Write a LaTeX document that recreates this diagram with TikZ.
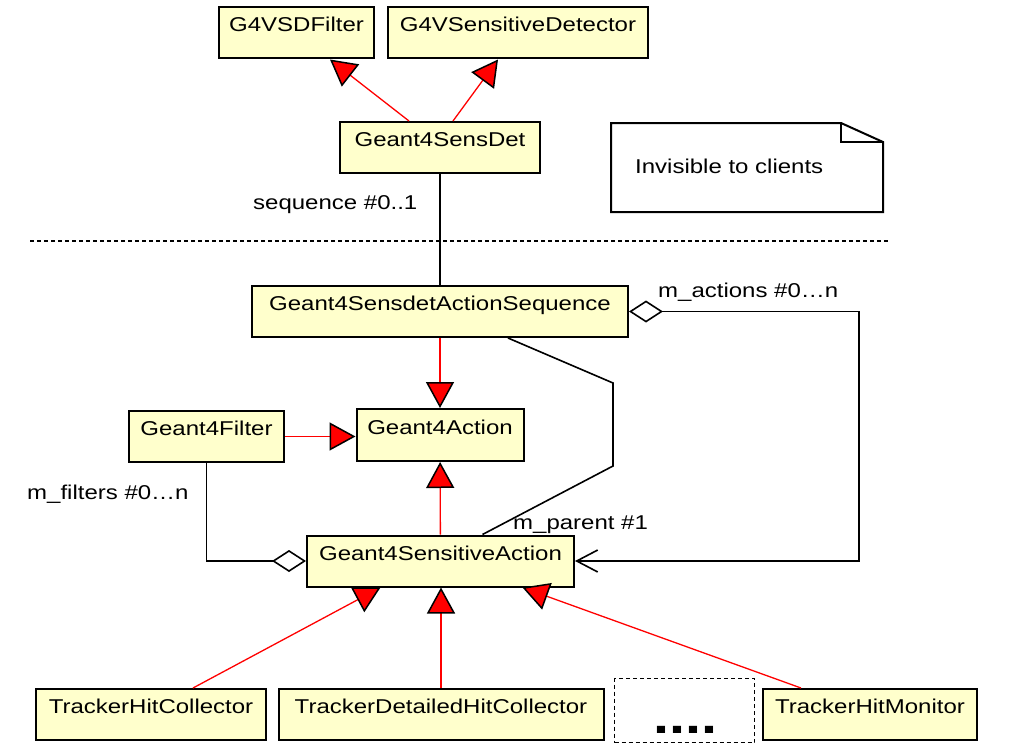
\documentclass[tikz,border=0pt]{standalone}
\usepackage{fontspec}
\setmainfont{Liberation Sans}[FakeStretch=1.2]
\usepackage{tikz}
\usetikzlibrary{arrows.meta, positioning}
\definecolor{classfill}{RGB}{255,255,204}
\definecolor{inhred}{RGB}{255,0,0}

\begin{document}
\begin{tikzpicture}[x=1pt, y=-1pt,
    classbox/.style={rectangle, draw=black, fill=classfill, line width=2pt,
      minimum height=51pt, text height=15pt, text depth=17pt, inner sep=0pt,
      font=\fontsize{20}{24}\selectfont},
    inherit/.style={-{Triangle[length=26pt, width=28pt, fill=inhred, color=black, line width=1.5pt]},
      line width=1.3pt, color=inhred},
    assoc/.style={line width=1.6pt, color=black},
    aggr/.tip={Diamond[open, length=34pt, width=22pt, line width=1.6pt]},
    rolename/.style={inner sep=0pt, anchor=base west, font=\fontsize{20}{24}\selectfont}
  ]
    \useasboundingbox (0,0) rectangle (1023,752);

    \node[classbox, minimum width=155pt] (sdfilter) at (296.5,33) {G4VSDFilter};
    \node[classbox, minimum width=260pt, right=12pt of sdfilter] (sensdet) {G4VSensitiveDetector};
    \node[classbox, minimum width=200pt] (g4sd) at (440,147.5) {Geant4SensDet};
    \node[classbox, minimum width=376pt] (seq) at (440,311.5) {Geant4SensdetActionSequence};
    \node[classbox, minimum width=167pt, minimum height=52pt] (action) at (440,435) {Geant4Action};
    \node[classbox, minimum width=155pt] (filter) at (206.5,436.5) {Geant4Filter};
    \node[classbox, minimum width=267pt] (sensact) at (440.5,561) {Geant4SensitiveAction};
    \node[classbox, minimum width=230pt] (hitcol) at (151,714.5) {TrackerHitCollector};
    \node[classbox, minimum width=325pt, right=10.5pt of hitcol] (dethit) {TrackerDetailedHitCollector};
    \node[draw, line width=1pt, dash pattern=on 4pt off 3pt, minimum width=140pt, minimum height=64pt]
      (etc) at (684.5,710.5) {};
    \node[inner sep=0pt, anchor=base, font=\fontsize{48}{48}\bfseries\selectfont] (etcdots) at (685,733) {....};
    \node[classbox, minimum width=214pt] (monitor) at (870,714.5) {TrackerHitMonitor};

    \draw[line width=2pt] (611,123) -- (841,123) -- (883,142) -- (883,212) -- (611,212) -- cycle;
    \draw[line width=2pt] (841,123) -- (841,142) -- (883,142);
    \node[rolename] (notetext) at (635,173) {Invisible to clients};

    \draw[line width=1.5pt, dash pattern=on 4pt off 3pt] (30,241) -- (890,241);

    \node[rolename] (seqlbl) at (253,209) {sequence \#0..1};
    \node[rolename] (actlbl) at (658,297) {m\_actions \#0…n};
    \node[rolename] (parlbl) at (513,529) {m\_parent \#1};
    \node[rolename] (filtlbl) at (27,499) {m\_filters \#0…n};

    \draw[inherit] ([xshift=-31pt]g4sd.north) -- ([xshift=33.5pt]sdfilter.south);
    \draw[inherit] ([xshift=13pt]g4sd.north) -- ([xshift=-20pt]sensdet.south);
    \draw[assoc] (g4sd) -- (seq);
    \draw[inherit] (seq) -- (action);
    \draw[inherit] (filter.east) -- (filter.east -| action.west);
    \draw[inherit] (sensact) -- (action);
    \draw[inherit] ([xshift=42pt]hitcol.north) -- ([xshift=-60pt]sensact.south);
    \draw[inherit] (dethit.north) -- (dethit.north |- sensact.south);
    \draw[inherit] ([xshift=-69pt]monitor.north) -- ([xshift=82pt]sensact.south);

    \draw[assoc, -aggr] (filter.south) |- (sensact.west);
    \draw[assoc, aggr-{Straight Barb[length=21pt, width=22pt, line width=1.6pt]}]
      (seq.east) -- ++(230,0) |- (sensact.east);
    \draw[assoc] ([xshift=68pt]seq.south) -- ++(105,45) -- ++(0,83) -- ([xshift=42pt]sensact.north);
  \end{tikzpicture}
\end{document}
